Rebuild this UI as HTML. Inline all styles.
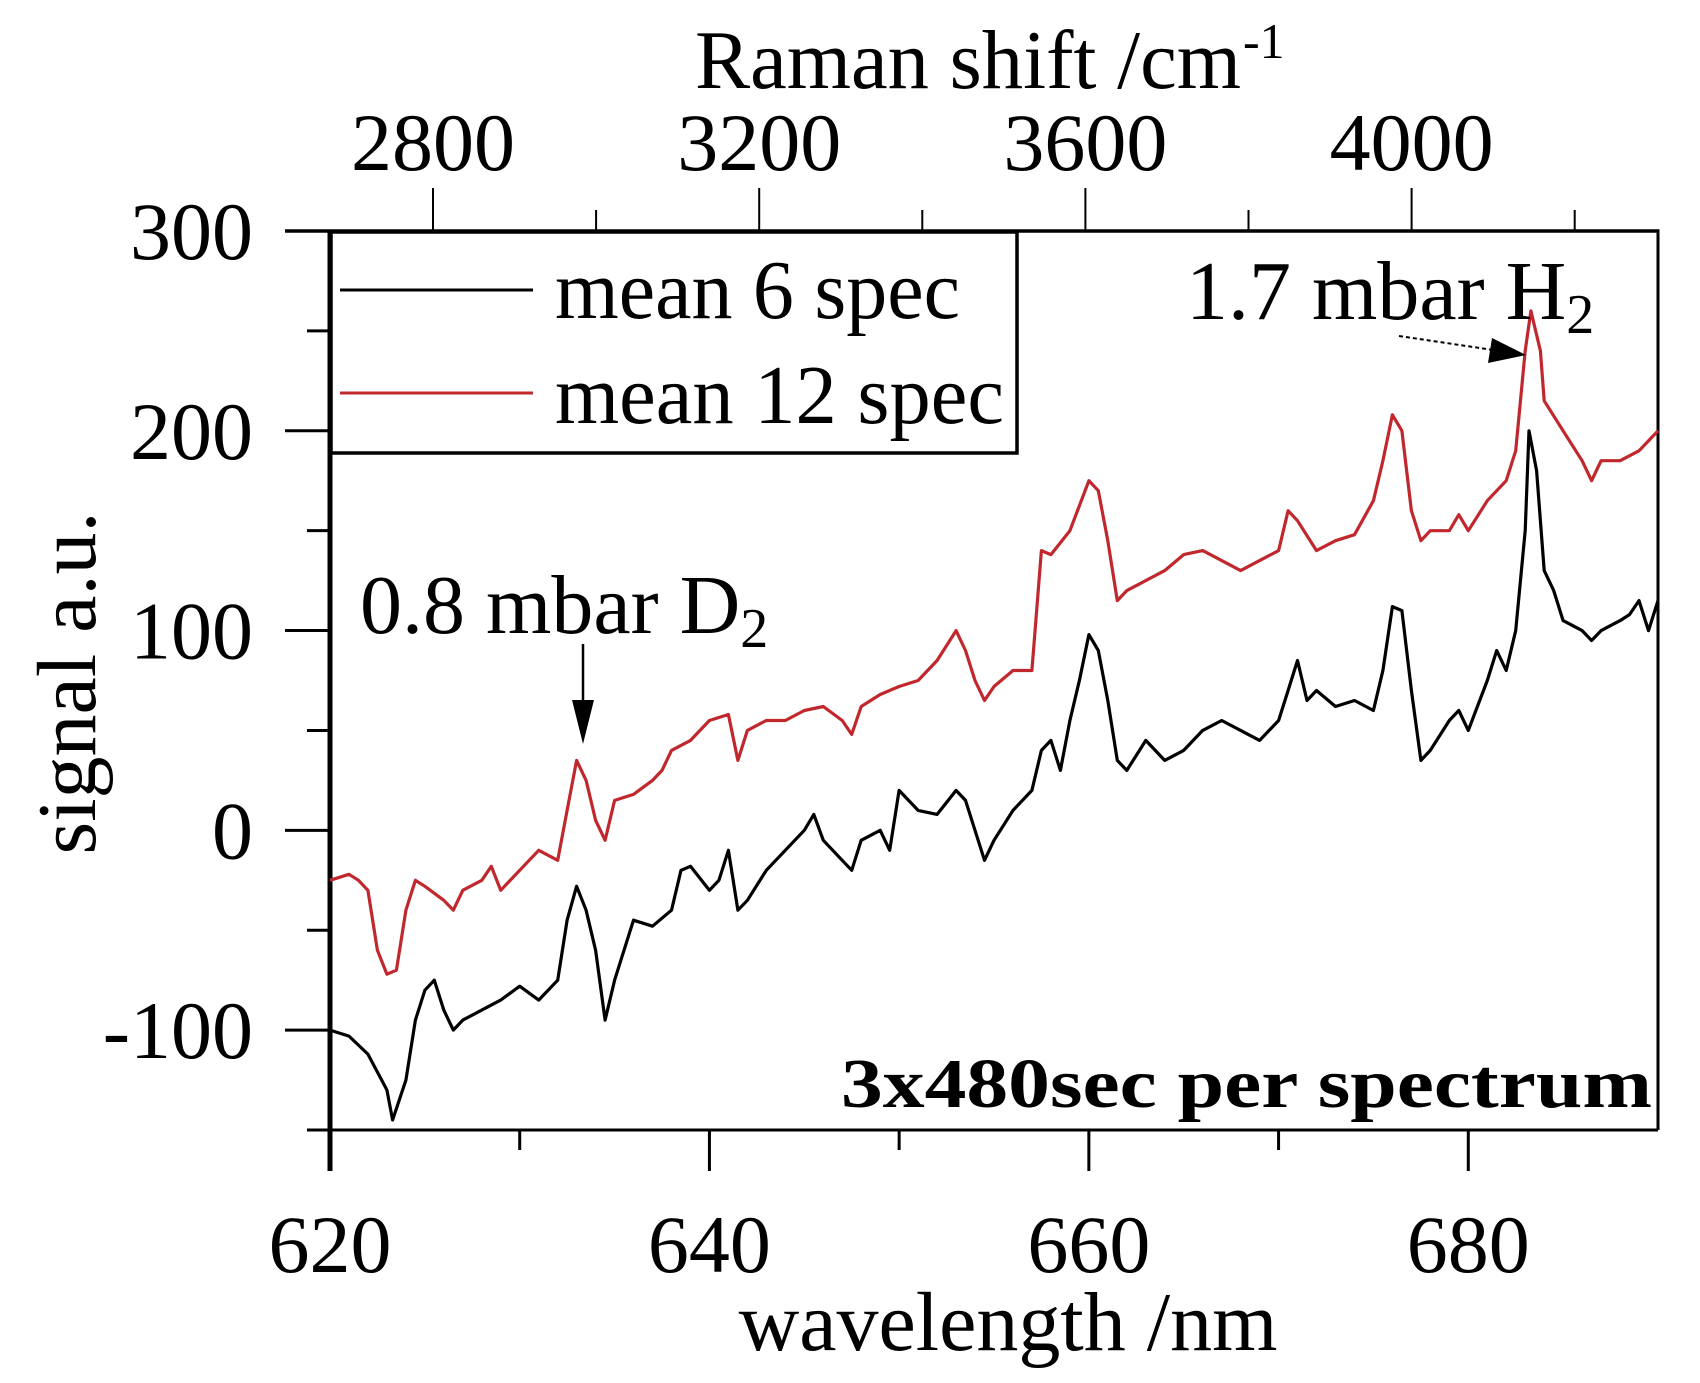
<!DOCTYPE html>
<html><head><meta charset="utf-8"><style>
html,body{margin:0;padding:0;background:#fff;}
svg{display:block;}
text{font-family:"Liberation Serif",serif;fill:#000;}
</style></head><body>
<svg id="chart" width="1700" height="1383" viewBox="0 0 1700 1383" xmlns="http://www.w3.org/2000/svg">
<g id="axes"></g>
<g id="series"></g>
<g id="labels">
  <text x="695" y="88" font-size="84" textLength="546" lengthAdjust="spacingAndGlyphs">Raman shift /cm</text>
  <text x="1243" y="58" font-size="50">-1</text>
  <text x="1008" y="1350" font-size="84" text-anchor="middle">wavelength /nm</text>
  <text transform="translate(95,683) rotate(-90)" font-size="84" text-anchor="middle">signal a.u.</text>
  <rect x="331" y="232" width="686" height="221" fill="#fff" stroke="#000" stroke-width="3.5"/>
  <line x1="340" y1="290" x2="533" y2="290" stroke="#000" stroke-width="3"/>
  <text x="555" y="318" font-size="84" textLength="405" lengthAdjust="spacingAndGlyphs">mean 6 spec</text>
  <line x1="340" y1="393" x2="533" y2="393" stroke="#c0282d" stroke-width="3"/>
  <text x="555" y="423" font-size="84" textLength="449" lengthAdjust="spacingAndGlyphs">mean 12 spec</text>
  <text x="1186" y="319" font-size="84">1.7 mbar H<tspan font-size="56" dy="14">2</tspan></text>
  <text x="360" y="633" font-size="84">0.8 mbar D<tspan font-size="56" dy="14">2</tspan></text>
  <line x1="583" y1="644" x2="583" y2="710" stroke="#000" stroke-width="2.5"/>
  <polygon points="572,700 594,700 583,744" fill="#000"/>
  <line x1="1399" y1="336" x2="1500" y2="351" stroke="#000" stroke-width="2" stroke-dasharray="4,3"/>
  <polygon points="1492,338 1488,363 1526,355" fill="#000"/>
  <text x="841" y="1107" font-size="70" font-weight="bold" textLength="811" lengthAdjust="spacingAndGlyphs">3x480sec per spectrum</text>
</g>
</svg>
<script>
const wl6 = [620,621,622,623,623.3,624,624.5,625,625.5,626,626.5,627,628,629,630,631,632,632.5,633,633.5,634,634.5,635,636,637,638,638.5,639,640,640.5,641,641.5,642,643,644,645,645.5,646,647,647.5,648,649,649.5,650,651,652,653,653.5,654,654.5,655,656,657,657.5,658,658.5,659,659.5,660,660.5,661,661.5,662,663,664,665,666,667,668,669,670,670.5,671,671.5,672,673,674,675,675.5,676,676.5,677,677.5,678,679,679.5,680,681,681.5,682,682.5,683,683.2,683.6,684,684.5,685,686,686.5,687,688,688.5,689,689.5,690];
const sig6 = [-100,-103,-112,-130,-145,-125,-95,-80,-75,-90,-100,-95,-90,-85,-78,-85,-75,-45,-28,-40,-60,-95,-75,-45,-48,-40,-20,-18,-30,-25,-10,-40,-35,-20,-10,0,8,-5,-15,-20,-5,0,-10,20,10,8,20,15,0,-15,-5,10,20,40,45,30,55,75,98,90,65,35,30,45,35,40,50,55,50,45,55,70,85,65,70,62,65,60,80,112,110,70,35,40,55,60,50,75,90,80,100,150,200,180,130,120,105,100,95,100,105,108,115,100,115];
const wl12 = [620,621,621.5,622,622.5,623,623.5,624,624.5,625,626,626.5,627,628,628.5,629,630,631,632,632.5,633,633.5,634,634.5,635,636,637,637.5,638,639,640,641,641.5,642,643,644,645,646,647,647.5,648,649,650,651,652,653,653.5,654,654.5,655,656,657,657.5,658,659,660,660.5,661,661.5,662,663,664,665,666,667,668,669,670,670.5,671,672,673,674,675,675.5,676,676.5,677,677.5,678,679,679.5,680,681,682,682.5,683,683.3,683.8,684,685,686,686.5,687,688,689,690];
const sig12 = [-25,-22,-25,-30,-60,-72,-70,-40,-25,-28,-35,-40,-30,-25,-18,-30,-20,-10,-15,10,35,25,5,-5,15,18,25,30,40,45,55,58,35,50,55,55,60,62,55,48,62,68,72,75,85,100,90,75,65,72,80,80,140,138,150,175,170,145,115,120,125,130,138,140,135,130,135,140,160,155,140,145,148,165,185,208,200,160,145,150,150,158,150,165,175,190,240,260,240,215,200,185,175,185,185,190,200];
const xTicksMajor = [620,640,660,680];
const xTicksMinor = [630,650,670];
const yTicksMajor = [300,200,100,0,-100];
const yTicksMinor = [250,150,50,-50];
const topTicksMajor = [2800,3200,3600,4000];
const topTicksMinor = [3000,3400,3800,4200];

const X0=330,X1=1658,Y0=231,Y1=1130;
function xs(v){return X0+(v-620)/(690-620)*(X1-X0);}
function ys(v){return Y0+(300-v)/(300-(-150))*(Y1-Y0);}
function xr(v){return 433+(v-2800)/1200*(1411.6-433);}
const NS='http://www.w3.org/2000/svg';
const axes=document.getElementById('axes');
const series=document.getElementById('series');
function mk(tag,attrs,parent){const e=document.createElementNS(NS,tag);for(const k in attrs)e.setAttribute(k,attrs[k]);parent.appendChild(e);return e;}

let e;
e=mk('line',{x1:307,y1:Y1,x2:X1,y2:Y1,stroke:'#000','stroke-width':3},axes);


e=mk('line',{x1:285,y1:Y0,x2:X1+1.5,y2:Y0,stroke:'#000','stroke-width':3.5},axes);


e=mk('line',{x1:X0,y1:Y0,x2:X0,y2:1171,stroke:'#000','stroke-width':5},axes);


e=mk('line',{x1:X1,y1:Y0,x2:X1,y2:Y1,stroke:'#000','stroke-width':3},axes);



xTicksMajor.forEach(v=>{
  const t=mk('line',{x1:xs(v),y1:Y1,x2:xs(v),y2:1171,stroke:'#000','stroke-width':v===620?5:3},axes);
  
  
  const l=mk('text',{x:xs(v),y:1272,'font-size':82,'text-anchor':'middle'},axes);
  l.textContent=v;
  
  
});
xTicksMinor.forEach(v=>{
  const t=mk('line',{x1:xs(v),y1:Y1,x2:xs(v),y2:1150,stroke:'#000','stroke-width':3},axes);
  
  
});
yTicksMajor.forEach(v=>{
  const t=mk('line',{x1:285,y1:ys(v),x2:X0,y2:ys(v),stroke:'#000','stroke-width':3},axes);
  
  
  const l=mk('text',{x:253,y:ys(v)+28,'font-size':82,'text-anchor':'end'},axes);
  l.textContent=v;
  
  
});
yTicksMinor.forEach(v=>{
  const t=mk('line',{x1:307,y1:ys(v),x2:X0,y2:ys(v),stroke:'#000','stroke-width':3},axes);
  
  
});
topTicksMajor.forEach(v=>{
  const t=mk('line',{x1:xr(v),y1:Y0,x2:xr(v),y2:188,stroke:'#000','stroke-width':2},axes);
  
  
  const l=mk('text',{x:xr(v),y:170,'font-size':82,'text-anchor':'middle'},axes);
  l.textContent=v;
  
  
});
topTicksMinor.forEach(v=>{
  const t=mk('line',{x1:xr(v),y1:Y0,x2:xr(v),y2:210,stroke:'#000','stroke-width':2},axes);
  
  
});

function path(wl,sig){return wl.map((w,i)=>(i?'L':'M')+xs(w).toFixed(1)+','+ys(sig[i]).toFixed(1)).join(' ');}
e=mk('path',{d:path(wl12,sig12),fill:'none',stroke:'#c0282d','stroke-width':3.2,'stroke-linejoin':'round'},series);


e=mk('path',{d:path(wl6,sig6),fill:'none',stroke:'#000','stroke-width':3.2,'stroke-linejoin':'round'},series);


document.getElementById('chart').appendChild(document.getElementById('labels'));
</script>
</body></html>
